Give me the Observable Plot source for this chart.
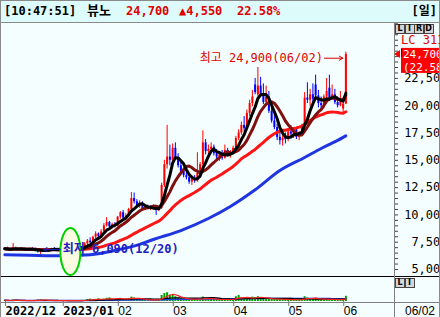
<!DOCTYPE html>
<html><head><meta charset="utf-8">
<script src="https://cdn.jsdelivr.net/npm/d3@7"></script>
<script src="https://cdn.jsdelivr.net/npm/@observablehq/plot@0.6"></script>
<style>
html,body{margin:0;padding:0;background:#fff;}
#wrap{position:relative;width:440px;height:317px;overflow:hidden;background:#f5fefe;font-family:"DejaVu Sans Mono","Noto Sans CJK KR",monospace;}
.a{position:absolute;white-space:nowrap;}
#hdr{left:0;top:0;width:440px;height:23px;box-sizing:border-box;border:1px solid #8a8a8a;background:#ddfbfb;}
.h{top:3px;font-size:12px;font-weight:bold;line-height:16px;}
.btn{width:8px;height:8px;border:1px solid #444;background:#d6d6d6;font:bold 8px/8px "DejaVu Sans",sans-serif;text-align:center;color:#000;}
</style></head><body><div id="wrap"></div><script>
// ---------- data ----------
const stockName = "뷰노";
const quoteTime = "10:47:51";
const periodLabel = "일";
const indicatorLabel = "LC 311,";
const months = ["2022-12","2023-01","2023-02","2023-03","2023-04","2023-05","2023-06"];
const monthLabels = ["2022/12","2023/01","02","03","04","05","06"];
const monthDays = [
  [1,2,5,6,7,8,9,12,13,14,15,16,19,20,21,22,23,26,27,28,29],
  [2,3,4,5,6,9,10,11,12,13,16,17,18,19,20,25,26,27,30,31],
  [1,2,3,6,7,8,9,10,13,14,15,16,17,20,21,22,23,24,27,28],
  [2,3,6,7,8,9,10,13,14,15,16,17,20,21,22,23,24,27,28,29,30,31],
  [3,4,5,6,7,10,11,12,13,14,17,18,19,20,21,24,25,26,27,28],
  [2,3,4,8,9,10,11,12,15,16,17,18,19,22,23,24,25,26,30,31],
  [1,2]
];
const open = [
 6850,6900,6850,6800,6950,6850,6900,6850,6800,6850,6900,6850,6700,6650,6700,6850,6800,6850,6900,6850,6800,
 6850,6800,6750,6850,6900,6850,6950,6900,7000,7350,7600,7450,7950,8250,8000,8450,9000,9300,8900,9100,
 8950,9800,10200,9700,9900,10500,11500,11200,10800,11000,10600,10700,10550,10650,10600,10400,10600,12700,14600,15300,
 15000,16100,15200,14500,14000,13600,13400,13000,13300,13100,13800,14600,16600,15800,16000,16200,15600,15300,15500,15200,15900,15500,
 15700,16100,17000,17500,18200,17900,19300,20200,21900,21000,21800,21000,20300,20800,19500,18600,18000,17100,16800,17000,
 16900,17600,17400,17800,17100,17400,18100,20700,20500,21000,21900,20900,20200,20000,20800,21600,20700,21000,20300,20000,
 19700,20150];
const high = [
 7000,7050,6950,7380,7050,6950,7000,6950,6900,6950,7000,6900,6800,6750,6900,6950,6900,6950,7000,6950,6900,
 6950,6900,6900,6950,7000,7000,7050,7050,7450,7750,7900,8050,8450,8350,8650,9200,9750,9400,9250,9300,
 9850,10300,10400,10100,10600,12050,12000,11400,11300,11200,10900,10900,10800,10900,10750,10700,12900,15000,18200,16400,
 16500,16600,15600,14900,14300,14000,13800,13500,13600,15700,14800,17700,16900,16400,16600,16400,16000,15800,15900,16400,16100,15900,
 16300,17200,17800,18500,19000,19600,20500,21400,22500,23500,22600,22000,21800,21300,19800,19200,18300,17600,17300,17500,
 17800,18200,18000,18000,17600,18300,21200,22100,21500,22000,22800,21400,20800,21000,22500,22800,21900,21500,20800,21300,
 20700,24900];
const low = [
 6750,6800,6700,6750,6800,6750,6800,6700,6700,6750,6800,6650,6500,6090,6650,6750,6700,6750,6800,6700,6700,
 6750,6700,6700,6750,6800,6800,6850,6850,6950,7250,7400,7400,7850,7900,7950,8400,8900,8800,8700,8800,
 8900,9600,9600,9500,9800,10400,11000,10700,10600,10500,10400,10500,10400,10500,9950,10300,10500,12500,14200,14500,
 14800,15000,14300,13800,13400,13200,12800,12700,12900,13000,13500,14300,15500,15400,15600,15400,15000,14900,15000,15100,15300,15200,
 15500,16000,16800,17300,17600,17800,19000,19900,21000,20800,20800,20100,20200,19300,18400,17800,16800,16400,16300,16500,
 16700,17200,17000,16900,16800,17200,18000,20200,19900,20300,20700,19800,19600,19700,20600,20500,20500,20100,19800,19900,
 19300,20100];
const close = [
 6900,6850,6800,6950,6850,6900,6850,6800,6850,6900,6850,6700,6650,6700,6850,6800,6850,6900,6850,6800,6850,
 6800,6750,6850,6900,6850,6950,6900,7000,7350,7600,7450,7950,8250,8000,8450,9000,9300,8900,9100,8950,
 9800,10200,9700,9900,10500,11500,11200,10800,11000,10600,10700,10550,10650,10600,10400,10600,12700,14600,15300,15000,
 16100,15200,14500,14000,13600,13400,13000,13300,13100,13800,14600,16600,15800,16000,16200,15600,15300,15500,15200,15900,15500,15700,
 16100,17000,17500,18200,17900,19300,20200,20800,21200,21800,21000,20300,20800,19500,18600,18000,17100,16800,17000,16900,
 17600,17400,17800,17100,17400,18100,20700,20500,21000,20600,20900,20200,20000,20800,21300,20700,21000,20300,20000,20600,
 20150,24700];
const volume = [
 30,25,20,35,40,22,20,18,20,22,25,30,35,40,30,25,20,18,22,20,18,
 20,18,22,25,20,22,25,28,30,50,60,45,55,70,50,60,80,90,60,55,
 70,80,60,55,75,110,90,60,50,45,40,38,35,40,38,45,150,200,220,160,
 150,120,80,70,65,60,50,55,50,70,60,110,80,60,55,50,45,48,45,60,50,45,
 50,120,150,90,70,80,90,110,100,120,90,80,70,60,55,70,60,50,45,50,
 50,45,40,45,40,55,120,90,70,60,80,60,50,45,60,55,50,45,40,50,
 60,130];
// long moving average (blue)
const ma60Dates = ["2022-12-01","2022-12-14","2022-12-29","2023-01-16","2023-02-01","2023-02-13","2023-02-20","2023-03-07",
  "2023-03-21","2023-03-31","2023-04-13","2023-04-26","2023-05-11","2023-05-19","2023-06-01","2023-06-02"];
const ma60Values = [6350,6300,6250,6350,6800,7300,7750,8570,9670,10770,12300,14070,15260,16080,17100,17250];
const priceLabels = [5000,7500,10000,12500,15000,17500,20000,22500];
const priceMinorStep = 500;
const markerDate = "2023-01-05";   // green ellipse drawn on the chart
const markerPrice = 6600;

// ---------- derived ----------
const dates = months.flatMap((m,k)=>monthDays[k].map(d=>m+"-"+String(d).padStart(2,"0")));
const data = dates.map((date,i)=>({i,date,open:open[i],high:high[i],low:low[i],close:close[i],volume:volume[i]}));
const ma60 = ma60Dates.map((d,k)=>({i:dates.indexOf(d), v:ma60Values[k]}));
const monthStart = months.map(m=>dates.findIndex(d=>d.startsWith(m)));
const UP="#ff0000", DN="#0000ff", RED="#e00000";
const col = d => d.close >= d.open ? UP : DN;
const fmt = d3.format(",");
const md = s => s.slice(5,7)+"/"+s.slice(8);
const N = data.length, last = data[N-1], prev = data[N-2];
const chg = last.close - prev.close, pct = chg/prev.close*100;
const hi = d3.maxIndex(high), lo = d3.minIndex(low);
const markIdx = dates.indexOf(markerDate);
const xDomain = [-0.5, 141.68];
const FONT = '"DejaVu Sans Mono","Noto Sans CJK KR",monospace';
const minorTicks = d3.range(priceLabels[0], 27501, priceMinorStep);
const F = s => typeof s === "function" ? s : (v => s.apply(v));

const wrap = document.getElementById("wrap");
function add(html){ wrap.insertAdjacentHTML("beforeend", html); }

// header
add(`<div id="hdr" class="a"></div>`);
add(`<div class="a h" style="left:4px">[${quoteTime}]</div>`);
add(`<div class="a h" style="left:87px;font-size:13px">${stockName}</div>`);
add(`<div class="a h" style="left:126px;color:${RED}">${fmt(last.close)}</div>`);
add(`<div class="a h" style="left:179px;color:${RED}">${chg>0?"▲":"▼"}${fmt(Math.abs(chg))}</div>`);
add(`<div class="a h" style="left:237px;color:${RED}">${pct.toFixed(2)}%</div>`);
add(`<div class="a h" style="right:3px">[${periodLabel}]</div>`);

// price pane
const pricePlot = Plot.plot({
  width:440, height:253, marginLeft:3, marginRight:46, marginTop:0, marginBottom:0,
  style:{background:"transparent", fontFamily:FONT, fontSize:"12px", overflow:"visible"},
  x:{domain:xDomain, axis:null, label:null},
  y:{domain:[4360,27530], label:null},
  color:{type:"identity"},
  marks:[
    Plot.axisY({ticks:minorTicks, anchor:"right", tickSize:3, tickPadding:50, textAnchor:"end",
      tickFormat:d=>priceLabels.includes(d)?fmt(d):"", stroke:"#404040", fill:"#000", fontSize:12, label:null}),
    Plot.ruleX(data,{x:"i", y1:"low", y2:"high", stroke:col, strokeWidth:1}),
    Plot.ruleX(data,{x:"i", y1:"open", y2:"close", stroke:col, strokeWidth:2}),
    Plot.line(ma60,{x:"i", y:"v", stroke:"#1f35e0", strokeWidth:3, curve:"monotone-x"}),
    Plot.lineY(data, Plot.windowY({k:30, anchor:"end"}, {x:"i", y:"close", stroke:"#ff1515", strokeWidth:3})),
    Plot.lineY(data, Plot.windowY({k:10, anchor:"end"}, {x:"i", y:"close", stroke:"#801010", strokeWidth:3})),
    Plot.lineY(data, Plot.windowY({k:5, anchor:"end"}, {x:"i", y:"close", stroke:"#000000", strokeWidth:3})),
    (index, scales) => {
      const X = F(scales.x), Y = F(scales.y);
      return d3.create("svg:ellipse").attr("cx", X(markIdx)).attr("cy", Y(markerPrice))
        .attr("rx", 10).attr("ry", 23.5).attr("fill", "#fbfbe2").attr("stroke", "#00d000").attr("stroke-width", 2).node();
    },
    Plot.arrow([hi],{x1:d=>d-7.8, x2:d=>d-1.1, y1:d=>high[d], y2:d=>high[d], dy:6, stroke:RED, strokeWidth:1, headLength:6}),
    Plot.text([hi],{x:d=>d, y:d=>high[d], text:d=>`최고 ${fmt(high[d])}(${md(dates[d])})`, textAnchor:"end", dx:-23, dy:6, fill:RED, fontSize:12}),
    Plot.arrow([lo],{x1:d=>d+7.3, x2:d=>d+1.1, y1:d=>low[d], y2:d=>low[d], dy:-8, stroke:"#2020c0", strokeWidth:1, headLength:6}),
    Plot.text([lo],{x:d=>d, y:d=>low[d], text:d=>`최저 ${fmt(low[d])}(${md(dates[d])})`, textAnchor:"start", dx:22, dy:-8, fill:"#2020c0", fontSize:12, fontWeight:"bold"}),
    (index, scales, values, dims) => {
      const Y = F(scales.y);
      const y = Y(last.close), x0 = dims.width - dims.marginRight;
      const g = d3.create("svg:g").attr("text-anchor", "start");
      g.append("path").attr("d", `M${x0},${y} l6,-4 v8 z`).attr("fill", "#ff0000");
      g.append("rect").attr("x", x0+7).attr("y", y-6).attr("width", 46).attr("height", 25).attr("fill", "#ff0000");
      g.append("rect").attr("x", x0+7).attr("y", y-5).attr("width", 1).attr("height", 8).attr("fill", "#0000ff");
      g.append("text").attr("x", x0+9).attr("y", y).attr("dy", "0.35em").attr("fill", "#fff").attr("font-size", 11).text(fmt(last.close));
      g.append("text").attr("x", x0+9).attr("y", y+13).attr("dy", "0.35em").attr("fill", "#fff").attr("font-size", 11).text(`(${pct.toFixed(2)}%)`);
      return g.node();
    }
  ]
});
const pDiv = document.createElement("div");
pDiv.className = "a"; pDiv.style.left = "0px"; pDiv.style.top = "23px";
pDiv.appendChild(pricePlot); wrap.appendChild(pDiv);

// volume pane + x axis
const yearIdx = monthStart.slice(0,2), monIdx = monthStart.slice(2);
const labelOf = new Map(monthStart.map((s,k)=>[s-0.5, monthLabels[k]]));
const volPlot = Plot.plot({
  width:440, height:40, marginLeft:3, marginRight:46, marginTop:0, marginBottom:16,
  style:{background:"transparent", fontFamily:FONT, fontSize:"12px", overflow:"visible"},
  x:{domain:xDomain, label:null},
  y:{domain:[0,600], axis:null, label:null},
  color:{type:"identity"},
  marks:[
    Plot.ruleX(data,{x:"i", y1:0, y2:"volume", stroke:"#00a000", strokeWidth:2}),
    Plot.lineY(data, Plot.windowY({k:60, anchor:"end"}, {x:"i", y:"volume", stroke:"#2040e0", strokeWidth:1.5})),
    Plot.lineY(data, Plot.windowY({k:20, anchor:"end"}, {x:"i", y:"volume", stroke:"#000", strokeWidth:1.2})),
    Plot.lineY(data, Plot.windowY({k:5, anchor:"end"}, {x:"i", y:"volume", stroke:"#ff2020", strokeWidth:1.2})),
    Plot.axisX({ticks:yearIdx.map(s=>s-0.5), tickFormat:d=>labelOf.get(d), anchor:"bottom", tickSize:5, tickPadding:0,
      textAnchor:"start", dx:2, stroke:"#777", fill:"#000", fontWeight:"bold", fontSize:12, label:null}),
    Plot.axisX({ticks:monIdx.map(s=>s-0.5), tickFormat:d=>labelOf.get(d), anchor:"bottom", tickSize:5, tickPadding:0,
      textAnchor:"start", dx:2, stroke:"#777", fill:"#000", fontSize:12, fontFamily:"Liberation Sans", label:null})
  ]
});
const vDiv = document.createElement("div");
vDiv.className = "a"; vDiv.style.left = "0px"; vDiv.style.top = "277px";
vDiv.appendChild(volPlot); wrap.appendChild(vDiv);

// frame lines and right panel
add(`<div class="a" style="left:0;top:276px;width:440px;height:1px;background:#000"></div>`);
add(`<div class="a" style="left:0;top:302px;width:440px;height:1px;background:#808080"></div>`);
add(`<div class="a" style="left:394px;top:23px;width:1px;height:294px;background:#808080"></div>`);
add(`<div class="a" style="left:0;top:0;width:1px;height:317px;background:#8a8a8a"></div>`);
add(`<div class="a" style="left:439px;top:0;width:1px;height:317px;background:#8a8a8a"></div>`);
["L","I","R","D"].forEach((t,k)=>add(`<div class="a btn" style="left:${395+k*9.5}px;top:24px">${t}</div>`));
["L","I"].forEach((t,k)=>add(`<div class="a btn" style="left:${395+k*9.5}px;top:278px">${t}</div>`));
add(`<div class="a" style="left:401px;top:33px;font-size:12px;line-height:14px;color:${RED}">${indicatorLabel}</div>`);
add(`<div class="a" style="left:405px;top:304px;font:12px/14px 'Liberation Sans',sans-serif;color:#000">${md(last.date)}</div>`);
</script></body></html>
